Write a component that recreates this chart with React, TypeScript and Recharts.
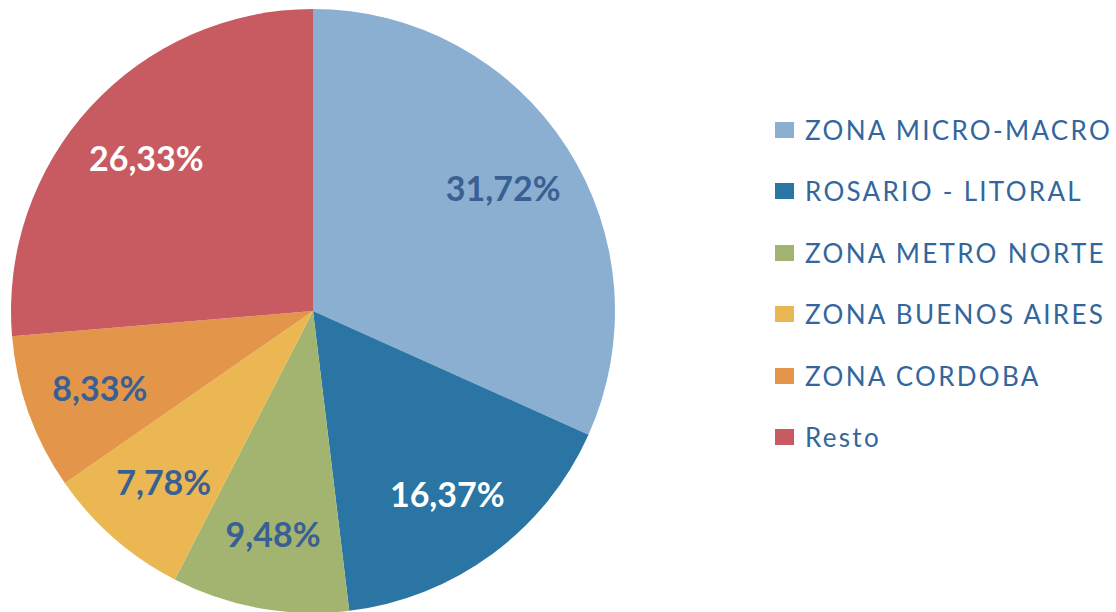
import { PieChart, Pie, Cell, Legend } from 'recharts';

const zones = ['ZONA MICRO-MACRO', 'ROSARIO - LITORAL', 'ZONA METRO NORTE', 'ZONA BUENOS AIRES', 'ZONA CORDOBA', 'Resto'];
const shares = [31.72, 16.37, 9.48, 7.78, 8.33, 26.33];
const colors = ['#8BAFD1', '#2A75A4', '#A2B46F', '#EBB752', '#E3964A', '#C85A61'];
const labelColors = ['#3A5F92', '#FFFFFF', '#3A5F92', '#3A5F92', '#3A5F92', '#FFFFFF'];

const data = zones.map((name, i) => ({ name, value: shares[i] }));

const RADIAN = Math.PI / 180;

const renderLabel = (props: any) => {
  const { cx, cy, midAngle, outerRadius, index, value } = props;
  const r = outerRadius * 0.75;
  const x = cx + r * Math.cos(-midAngle * RADIAN);
  const y = cy + r * Math.sin(-midAngle * RADIAN);
  return (
    <text
      x={x}
      y={y}
      fill={labelColors[index]}
      textAnchor="middle"
      dominantBaseline="central"
      style={{ fontFamily: 'Lato, sans-serif', fontWeight: 700, fontSize: 34 }}
    >
      {value.toFixed(2).replace('.', ',')}%
    </text>
  );
};

const renderLegend = () => (
  <div style={{ fontFamily: 'Lato, sans-serif' }}>
    {zones.map((z, i) => (
      <div key={z} style={{ display: 'flex', alignItems: 'center', height: 61.5 }}>
        <span style={{ width: 19, height: 16, background: colors[i], marginRight: 11, display: 'inline-block', flexShrink: 0 }} />
        <span style={{ fontSize: 26, color: '#33669C', letterSpacing: 2.3, whiteSpace: 'nowrap' }}>{z}</span>
      </div>
    ))}
  </div>
);

export default function App() {
  return (
    <div style={{ position: 'absolute', left: 0, top: 0, width: 1116, height: 612, background: '#fff' }}>
      <PieChart width={1116} height={612} margin={{ top: 0, right: 0, bottom: 0, left: 0 }}>
        <Pie
          data={data}
          dataKey="value"
          nameKey="name"
          cx={313}
          cy={311}
          outerRadius={302}
          startAngle={90}
          endAngle={-270}
          stroke="none"
          labelLine={false}
          label={renderLabel}
          isAnimationActive={false}
        >
          {data.map((d, i) => (
            <Cell key={d.name} fill={colors[i]} />
          ))}
        </Pie>
        <Legend
          layout="vertical"
          content={renderLegend}
          wrapperStyle={{ left: 775, top: 99, width: 341 }}
        />
      </PieChart>
    </div>
  );
}
